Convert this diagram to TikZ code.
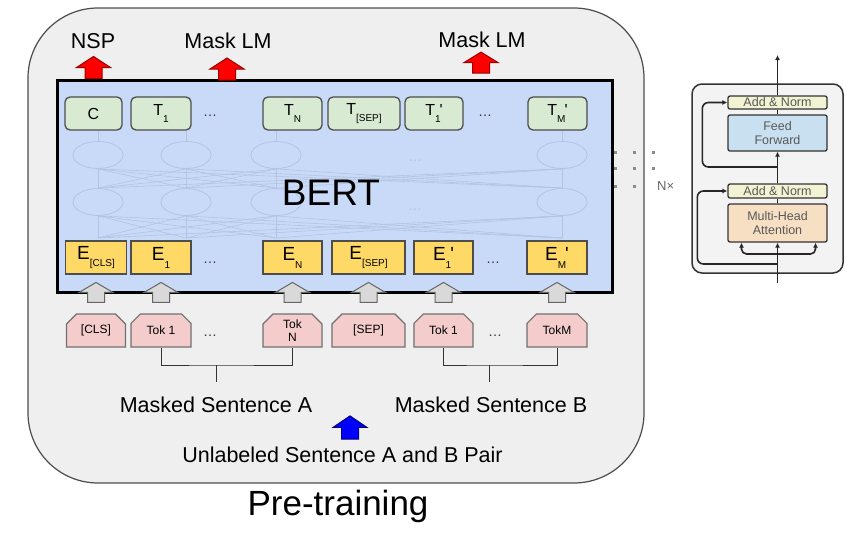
\documentclass[tikz,border=0pt]{standalone}
\usepackage{fontspec}
\setmainfont{Liberation Sans}
\usetikzlibrary{
    arrows.meta,
    positioning,
    shapes.geometric,
    shapes.misc,
    backgrounds
}

\definecolor{framegray}{HTML}{EFEFEF}
\definecolor{bertblue}{HTML}{C9DAF8}
\definecolor{outgreen}{HTML}{D9EAD3}
\definecolor{embyellow}{HTML}{FFD966}
\definecolor{tokpink}{HTML}{F4CCCC}
\definecolor{netgray}{HTML}{B3C4E2}
\definecolor{normyellow}{HTML}{F1F3D2}
\definecolor{ffblue}{HTML}{C8E0F0}
\definecolor{attnorange}{HTML}{F7DFC3}
\definecolor{edgegray}{HTML}{4D4D4D}
\definecolor{blockgray}{HTML}{F3F3F3}

\newcommand{\fsz}[2]{\fontsize{#1}{#2}\selectfont}
\newcommand{\lowidx}[1]{\raisebox{-0.42em}{\fsz{10}{10}#1}}

\begin{document}
\begin{tikzpicture}[
    x=1pt, y=-1pt,
    font=\fsz{21.5}{24},
    layer/.style={
        rectangle,
        rounded corners=70pt,
        draw=edgegray,
        line width=1.2pt,
        fill=framegray,
        inner sep=0pt
    },
    bertbox/.style={
        rectangle,
        draw=black,
        line width=3pt,
        fill=bertblue,
        minimum width=555pt,
        minimum height=212pt
    },
    outbox/.style={
        rectangle,
        rounded corners=5pt,
        draw=edgegray,
        line width=1.3pt,
        fill=outgreen,
        minimum height=33pt,
        inner sep=0pt,
        font=\fsz{16}{18}
    },
    embbox/.style={
        rectangle,
        draw=edgegray,
        line width=1.2pt,
        fill=embyellow,
        minimum height=33pt,
        inner sep=0pt,
        font=\fsz{19}{21}
    },
    tokbox/.style={
        chamfered rectangle,
        chamfered rectangle corners={north west,north east},
        chamfered rectangle xsep=5pt,
        chamfered rectangle ysep=5pt,
        draw=edgegray!80,
        line width=1.1pt,
        fill=tokpink,
        minimum height=33pt,
        inner sep=0pt,
        align=center,
        font=\fsz{12}{13}
    },
    neuron/.style={
        ellipse,
        draw=netgray,
        line width=0.8pt,
        minimum width=50pt,
        minimum height=27pt,
        inner sep=0pt
    },
    netline/.style={
        draw=netgray,
        line width=0.6pt
    },
    blockup/.pic={
        \path[pic actions] (-8.5,0) -- (-8.5,-11) -- (-17,-11) -- (0,-22)
            -- (17,-11) -- (8.5,-11) -- (8.5,0) -- cycle;
    },
    redup/.style={fill=red, draw=red!60!black, line width=1pt},
    grayup/.style={fill=black!15, draw=black!60, line width=1pt},
    blueup/.style={fill=blue, draw=blue!50!black, line width=1pt},
    bracket/.style={
        draw=black!80,
        line width=1pt
    },
    ellip/.style={
        font=\fsz{14}{16},
        text=black!80
    },
    tblock/.style={
        rectangle,
        rounded corners=10pt,
        draw=black!80,
        line width=1.5pt,
        fill=blockgray
    },
    sublayer/.style={
        rectangle,
        rounded corners=2pt,
        draw=black!80,
        line width=1.3pt,
        minimum width=99pt,
        inner sep=0pt,
        align=center,
        text=black!65,
        font=\fsz{12.5}{13.5}
    },
    wire/.style={
        draw=black!85,
        line width=1.6pt
    },
    wirearrow/.style={
        wire,
        -{Latex[length=5pt,width=5pt]}
    },
    repdots/.style={
        draw=black!45,
        line width=3pt,
        dash pattern=on 3pt off 16pt
    }
]
\useasboundingbox (0,0) rectangle (846,533);

% =========================================================
% Pre-training frame and BERT body
% =========================================================
\begin{scope}[on background layer]
\node[layer, minimum width=616pt, minimum height=475pt] (pretrain) at (336,245.5) {};
\end{scope}

\node[bertbox] (bert) at (334.5,186) {};

% faint hidden layers
\foreach \cx [count=\i] in {98,186,276,562} {
    \node[neuron] (up\i) at (\cx,155) {};
    \node[neuron] (lo\i) at (\cx,202) {};
    \coordinate (top\i) at (\cx,131);
    \coordinate (bot\i) at (\cx,238);
}
\foreach \i in {1,...,4} {
    \draw[netline] (top\i) -- (up\i.north);
    \draw[netline] (lo\i.south) -- (bot\i);
    \foreach \j in {1,...,4} {
        \draw[netline] (lo\i.north) -- (up\j.south);
        \draw[netline] (bot\i) -- (lo\j.south);
    }
}
\node[ellip, text=netgray] (hdotsa) at (415,161) {\ldots};
\node[ellip, text=netgray] (hdotsb) at (415,210) {\ldots};

\node[font=\fsz{37}{40}, anchor=base] (berttitle) at (331,205) {BERT};

% =========================================================
% Output tokens
% =========================================================
\node[outbox, minimum width=57pt] (tc) at (93.5,113.5) {C};
\node[outbox, minimum width=60pt] (t1) at (161,113.5) {T\lowidx{1}};
\node[ellip] (tdotsa) at (210,116) {\ldots};
\node[outbox, minimum width=59pt] (tn) at (292.5,113.5) {T\lowidx{N}};
\node[outbox, minimum width=72pt] (tsep) at (364,113.5) {T\lowidx{[SEP]}};
\node[outbox, minimum width=58pt] (t1b) at (434,113.5) {T\lowidx{1}\kern-1pt\textquotesingle};
\node[ellip] (tdotsb) at (485,116) {\ldots};
\node[outbox, minimum width=59pt] (tmb) at (557.5,113.5) {T\lowidx{M}\kern-1pt\textquotesingle};

% =========================================================
% Input embeddings
% =========================================================
\node[embbox, minimum width=61pt] (ecls) at (96,257.5) {E\lowidx{[CLS]}};
\node[embbox, minimum width=60pt] (e1) at (161,257.5) {E\lowidx{1}};
\node[ellip] (edotsa) at (210,263) {\ldots};
\node[embbox, minimum width=59pt] (en) at (292.5,257.5) {E\lowidx{N}};
\node[embbox, minimum width=73pt] (esep) at (368.5,257.5) {E\lowidx{[SEP]}};
\node[embbox, minimum width=59pt] (e1b) at (443.5,257.5) {E\lowidx{1}\kern-1pt\textquotesingle};
\node[ellip] (edotsb) at (493,263) {\ldots};
\node[embbox, minimum width=60pt] (emb) at (557,257.5) {E\lowidx{M}\kern-1pt\textquotesingle};

% =========================================================
% Input tokens
% =========================================================
\node[tokbox, minimum width=59pt] (tokcls) at (96,330.5) {[CLS]};
\node[tokbox, minimum width=60pt] (toka1) at (161,330.5) {Tok 1};
\node[ellip] (kdotsa) at (210,336) {\ldots};
\node[tokbox, minimum width=59pt] (tokan) at (292.5,330.5) {Tok\\N};
\node[tokbox, minimum width=73pt] (toksep) at (368.5,330.5) {[SEP]};
\node[tokbox, minimum width=59pt] (tokb1) at (443.5,330.5) {Tok 1};
\node[ellip] (kdotsb) at (495,336) {\ldots};
\node[tokbox, minimum width=60pt] (tokbm) at (557,330.5) {TokM};

% token -> embedding arrows
\foreach \tk in {tokcls,toka1,tokan,toksep,tokb1,tokbm} {
    \pic[grayup, yscale=0.91] (up-\tk) at ([yshift=11pt]\tk.north) {blockup};
}

% =========================================================
% Heads and sentence labels
% =========================================================
\pic[redup] (nsparrow) at (tc.center |- bert.north) {blockup};
\pic[redup] (lmarrowa) at (227,80) {blockup};
\pic[redup, yscale=0.95] (lmarrowb) at (481,73) {blockup};

\node[anchor=base] (nsp) at (93,48) {NSP};
\node[anchor=base] (masklma) at (228,48) {Mask LM};
\node[anchor=base] (masklmb) at (482,47) {Mask LM};

\coordinate (bra) at (216,365);
\coordinate (brb) at (489,365);
\node[anchor=base] (senta) at (216,412) {Masked Sentence A};
\node[anchor=base] (sentb) at (491,412) {Masked Sentence B};

\draw[bracket] (toka1.south) |- (bra) -| (tokan.south);
\draw[bracket] (tokb1.south) |- (brb) -| (tokbm.south);
\draw[bracket, shorten >=11pt] (bra) -- (bra |- senta.north);
\draw[bracket, shorten >=11pt] (brb) -- (brb |- sentb.north);

\pic[blueup, yscale=1.05] (pairarrow) at (350,439) {blockup};
\node[anchor=base] (pair) at (342.5,462) {Unlabeled Sentence A and B Pair};

\node[font=\fsz{35}{38}, anchor=base] (pretitle) at (338,515) {Pre-training};

% =========================================================
% Transformer layer (N x)
% =========================================================
\node[tblock, minimum width=151pt, minimum height=189pt] (layerbox) at (767.5,178.5) {};
\node[sublayer, fill=normyellow, minimum height=13pt] (addtop) at (777.5,102.5) {Add \& Norm};
\node[sublayer, fill=ffblue, minimum height=36pt] (ff) at (777.5,133) {Feed\\Forward};
\node[sublayer, fill=normyellow, minimum height=14pt] (addbot) at (777.5,191) {Add \& Norm};
\node[sublayer, fill=attnorange, minimum height=38pt] (mha) at (777.5,223) {Multi-Head\\Attention};

\coordinate (tout) at (777.5,55);
\coordinate (tin) at (777.5,283);
\coordinate (resa) at (777.5,167);
\coordinate (resb) at (777.5,264);
\coordinate (split) at (777.5,254);

\draw[wirearrow] (addtop.north) -- (tout);
\draw[wire] (ff.north) -- (addtop.south);
\draw[wirearrow] (addbot.north) -- (ff.south);
\draw[wire] (mha.north) -- (addbot.south);
\draw[wirearrow] (tin) -- (mha.south);
\draw[wirearrow, rounded corners=6pt] (resa) -| ([xshift=-25pt]addtop.west) -- (addtop.west);
\draw[wirearrow, rounded corners=6pt] (resb) -| ([xshift=-30pt]addbot.west) -- (addbot.west);
\draw[wirearrow, rounded corners=5pt] (split) -| ([xshift=-36pt]mha.south);
\draw[wirearrow, rounded corners=5pt] (split) -| ([xshift=38pt]mha.south);

% repeat marks
\draw[repdots] (613.5,152) -- (657,152);
\draw[repdots] (613.5,168) -- (657,168);
\draw[repdots] (bert.east) -- (651,186);
\node[font=\fsz{13}{14}, text=black!60, anchor=west, inner sep=1pt] (nx) at (656,186) {N\texttimes};

\end{tikzpicture}
\end{document}
